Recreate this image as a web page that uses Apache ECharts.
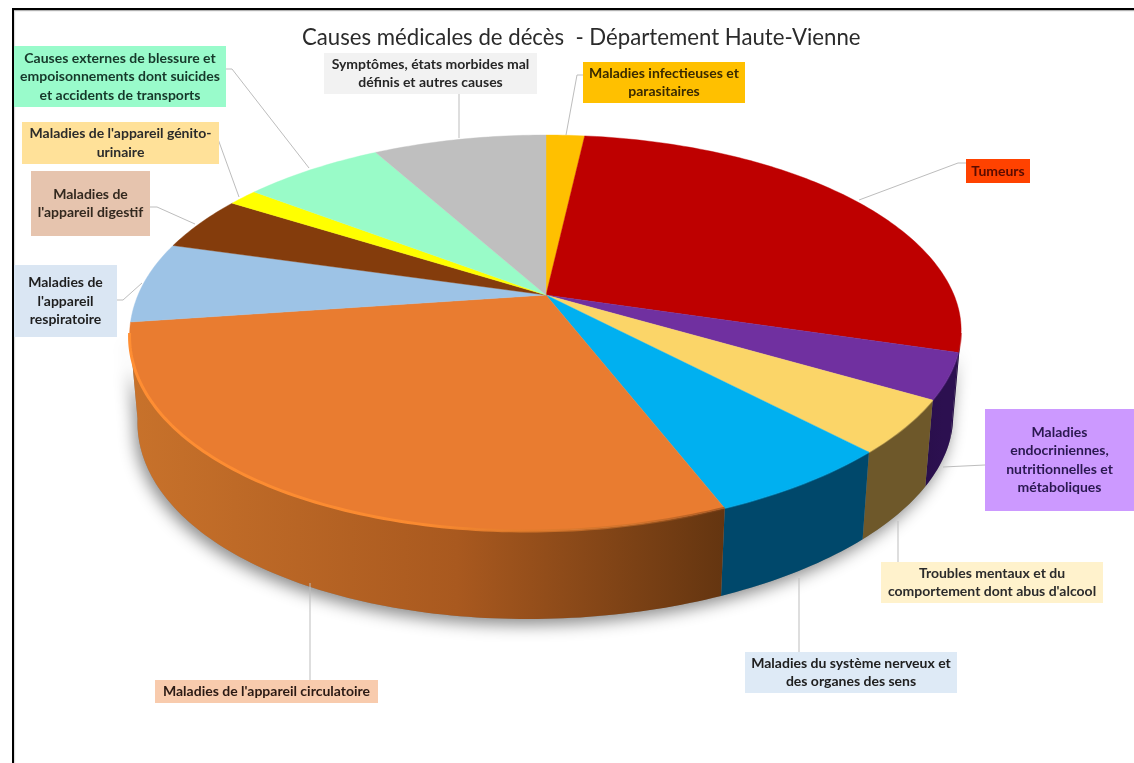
<!DOCTYPE html>
<html lang="fr">
<head>
<meta charset="utf-8">
<title>Causes médicales de décès - Département Haute-Vienne</title>
<style>
  html, body { margin: 0; padding: 0; background: #fff; }
  #chart { width: 1134px; height: 763px; }
</style>
<script src="https://cdn.jsdelivr.net/npm/echarts@6/dist/echarts.min.js"></script>
</head>
<body>
<div id="chart"></div>
<script>
// Share of deaths per cause (percent), clockwise from the top of the pie.
const categories = [
  'Maladies infectieuses et parasitaires',
  'Tumeurs',
  'Maladies endocriniennes, nutritionnelles et métaboliques',
  'Troubles mentaux et du comportement dont abus d\'alcool',
  'Maladies du système nerveux et des organes des sens',
  'Maladies de l\'appareil circulatoire',
  'Maladies de l\'appareil respiratoire',
  'Maladies de l\'appareil digestif',
  'Maladies de l\'appareil génito-urinaire',
  'Causes externes de blessure et empoisonnements dont suicides et accidents de transports',
  'Symptômes, états morbides mal définis et autres causes'
];
const shares = [1.8, 27.8, 3.7, 4.3, 6.0, 29.2, 6.6, 4.5, 1.4, 6.6, 8.1];

const labelLines = [
  'Maladies infectieuses et\nparasitaires',
  'Tumeurs',
  'Maladies\nendocriniennes,\nnutritionnelles et\nmétaboliques',
  'Troubles mentaux et du\ncomportement dont abus d\'alcool',
  'Maladies du système nerveux et\ndes organes des sens',
  'Maladies de l\'appareil circulatoire',
  'Maladies de\nl\'appareil\nrespiratoire',
  'Maladies de\nl\'appareil digestif',
  'Maladies de l\'appareil génito-\nurinaire',
  'Causes externes de blessure et\nempoisonnements dont suicides\net accidents de transports',
  'Symptômes, états morbides mal\ndéfinis et autres causes'
];

// Slice styling.
const topColors = ['#FFC000', '#BE0000', '#7030A0', '#FBD568', '#00B0F0', '#E97C30', '#9DC3E6', '#843C0C', '#FFFF00', '#99FBC8', '#BFBFBF'];
const wallStops = [
  ['#7F6000', '#7F6000'], ['#2A0F4C', '#2A0F4C'], ['#2A0F4C', '#2C1050'], ['#6E582A', '#6E582A'],
  ['#00486B', '#00486B'], ['#C8722B', '#643510'], ['#4E6273', '#4E6273'], ['#421E06', '#421E06'],
  ['#808000', '#808000'], ['#4D7D64', '#4D7D64'], ['#606060', '#606060']
];
const labelFills = ['#FFC000', '#FF4200', '#CC99FF', '#FFF2CC', '#DEEAF6', '#F8CBAD', '#DAE6F3', '#E6C4AE', '#FFE199', '#99FBCB', '#F2F2F2'];
const labelInk = ['#3A2A00', '#5A0C00', '#2A1850', '#2B2B2B', '#202020', '#2B1A14', '#1E1E1E', '#33291F', '#2B2B2B', '#16382A', '#262626'];

// Label boxes [left, top, right, bottom] and leader polylines on the page.
const labelBoxes = [
  [583, 62, 745, 103], [966, 159, 1030, 183], [985, 409, 1134, 511], [881, 562, 1103, 603],
  [745, 652, 957, 693], [155, 680, 378, 703], [14, 265, 117, 337], [31, 171, 150, 236],
  [22, 122, 219, 164], [14, 46, 226, 107], [324, 53, 537, 94]
];
const leaders = [
  [[583, 75], [577, 75], [566, 135]],
  [[966, 163], [958, 163], [859, 200]],
  [[985, 465], [943, 467]],
  [[898, 562], [898, 521]],
  [[799, 652], [799, 578]],
  [[310, 680], [310, 583]],
  [[117, 300], [123, 300], [142, 283]],
  [[150, 207], [157, 207], [195, 224]],
  [[218, 139], [239, 197]],
  [[226, 69], [232, 69], [309, 168]],
  [[459, 94], [459, 138]]
];

// Perspective of the pie disc: apex position, disc radii, foreshortening,
// thickness (greater towards the viewer), and the slight sideways lean of its near half.
const view = { x0: 546, y0: 295, a: 408, b: 190.7, k: 0.192, depth: 85, nearDepth: 3, shrink: 0.981, lean: 18 };
const DEG = Math.PI / 180;

function project(theta, z) {
  const X = Math.sin(theta * DEG);
  const Y = -Math.cos(theta * DEG);
  const w = 1 - view.k * Y;
  const s = z ? view.shrink : 1;
  const near = Math.max(Y, 0);
  const drop = z * (view.depth + view.nearDepth * near);
  return [view.x0 + s * view.a * X / w - view.lean * near * near, view.y0 + view.b * Y / w + drop];
}

function arc(from, to, z) {
  const n = Math.max(2, Math.ceil(Math.abs(to - from)));
  const pts = [];
  for (let i = 0; i <= n; i++) pts.push(project(from + (to - from) * i / n, z));
  return pts;
}

// Cumulative start and end angle of each slice.
const total = shares.reduce((s, v) => s + v, 0);
const angles = [];
shares.reduce((acc, v) => {
  angles.push([acc / total * 360, (acc + v) / total * 360]);
  return acc + v;
}, 0);

// The outer wall is only seen on the near half of the disc.
const frontFrom = 90 + Math.asin(view.k) / DEG;
const frontTo = 270 - Math.asin(view.k) / DEG;

const sliceData = shares.map((v, i) => ({ name: categories[i], value: v }));

function renderShadow() {
  const pts = arc(frontFrom, frontTo, 1).concat(arc(frontTo, frontFrom, 0));
  return {
    type: 'polygon',
    shape: { points: pts },
    style: { fill: '#8a8a8a', shadowBlur: 16, shadowColor: 'rgba(0,0,0,0.45)', shadowOffsetX: -3, shadowOffsetY: 6 }
  };
}

function renderWall(params) {
  const i = params.dataIndex;
  const from = Math.max(angles[i][0], frontFrom);
  const to = Math.min(angles[i][1], frontTo);
  if (to <= from) return { type: 'group', children: [] };
  const pts = arc(from, to, 0).concat(arc(to, from, 1));
  const stops = wallStops[i];
  return {
    type: 'polygon',
    shape: { points: pts },
    style: {
      fill: {
        type: 'linear', x: 0, y: 0, x2: 1, y2: 0,
        colorStops: [{ offset: 0, color: stops[0] }, { offset: 0.55, color: i === 5 ? '#A9591F' : stops[1] }, { offset: 1, color: stops[1] }]
      }
    }
  };
}

function renderTop(params) {
  const i = params.dataIndex;
  const pts = [[view.x0, view.y0]].concat(arc(angles[i][0], angles[i][1], 0));
  return {
    type: 'polygon',
    shape: { points: pts },
    style: { fill: topColors[i], stroke: topColors[i], lineWidth: 0.4 }
  };
}

// Soft highlight along the near rim of the largest front slice.
function renderRim(params) {
  const i = params.dataIndex;
  const from = Math.max(angles[i][0], frontFrom);
  const to = Math.min(angles[i][1], frontTo);
  if (to <= from) return { type: 'group', children: [] };
  const isMain = i === 5;
  return {
    type: 'polyline',
    shape: { points: arc(from, to, 0) },
    style: {
      fill: 'none',
      lineWidth: isMain ? 3 : 2,
      stroke: isMain
        ? { type: 'linear', x: 0, y: 0, x2: 1, y2: 0, colorStops: [{ offset: 0, color: '#FF8E33' }, { offset: 0.5, color: '#FA8A30' }, { offset: 0.85, color: 'rgba(200,110,40,0.6)' }, { offset: 1, color: 'rgba(120,60,20,0.5)' }] }
        : topColors[i],
      opacity: isMain ? 1 : 0.45
    }
  };
}

function renderLeader(params) {
  return {
    type: 'polyline',
    shape: { points: leaders[params.dataIndex] },
    style: { fill: 'none', stroke: '#BDBDBD', lineWidth: 1 }
  };
}

function renderLabel(params) {
  const i = params.dataIndex;
  const [l, t, r, b] = labelBoxes[i];
  return {
    type: 'group',
    children: [
      { type: 'rect', shape: { x: l, y: t, width: r - l, height: b - t }, style: { fill: labelFills[i] } },
      {
        type: 'text',
        style: {
          text: labelLines[i], x: (l + r) / 2, y: (t + b) / 2,
          align: 'center', verticalAlign: 'middle',
          font: '700 14px Lato, "Open Sans", sans-serif', lineHeight: 18.5, fill: labelInk[i]
        }
      }
    ]
  };
}

const custom = (name, renderItem, data, z) => ({
  type: 'custom', name, coordinateSystem: 'none', renderItem, data, z, silent: true, animation: false
});

const chart = echarts.init(document.getElementById('chart'));
chart.setOption({
  backgroundColor: '#ffffff',
  animation: false,
  title: {
    text: 'Causes médicales de décès  - Département Haute-Vienne',
    left: 297, top: 22,
    textStyle: { fontFamily: 'Lato, "Open Sans", sans-serif', fontWeight: 400, fontSize: 22.2, color: '#2B2B2B' }
  },
  graphic: [
    { type: 'rect', shape: { x: 12, y: 8, width: 1122, height: 2.4 }, style: { fill: '#000' }, silent: true },
    { type: 'rect', shape: { x: 12, y: 8, width: 2.2, height: 755 }, style: { fill: '#000' }, silent: true },
    { type: 'rect', shape: { x: 14.2, y: 10.4, width: 1120, height: 1 }, style: { fill: '#E4E4E4' }, silent: true },
    { type: 'rect', shape: { x: 14.2, y: 10.4, width: 1, height: 753 }, style: { fill: '#E4E4E4' }, silent: true }
  ],
  series: [
    custom('Ombre', renderShadow, [total], 1),
    custom('Parois', renderWall, sliceData, 2),
    custom('Secteurs', renderTop, sliceData, 3),
    custom('Reflet', renderRim, sliceData, 4),
    custom('Repères', renderLeader, sliceData, 5),
    custom('Étiquettes', renderLabel, sliceData, 6)
  ]
});
</script>
</body>
</html>
